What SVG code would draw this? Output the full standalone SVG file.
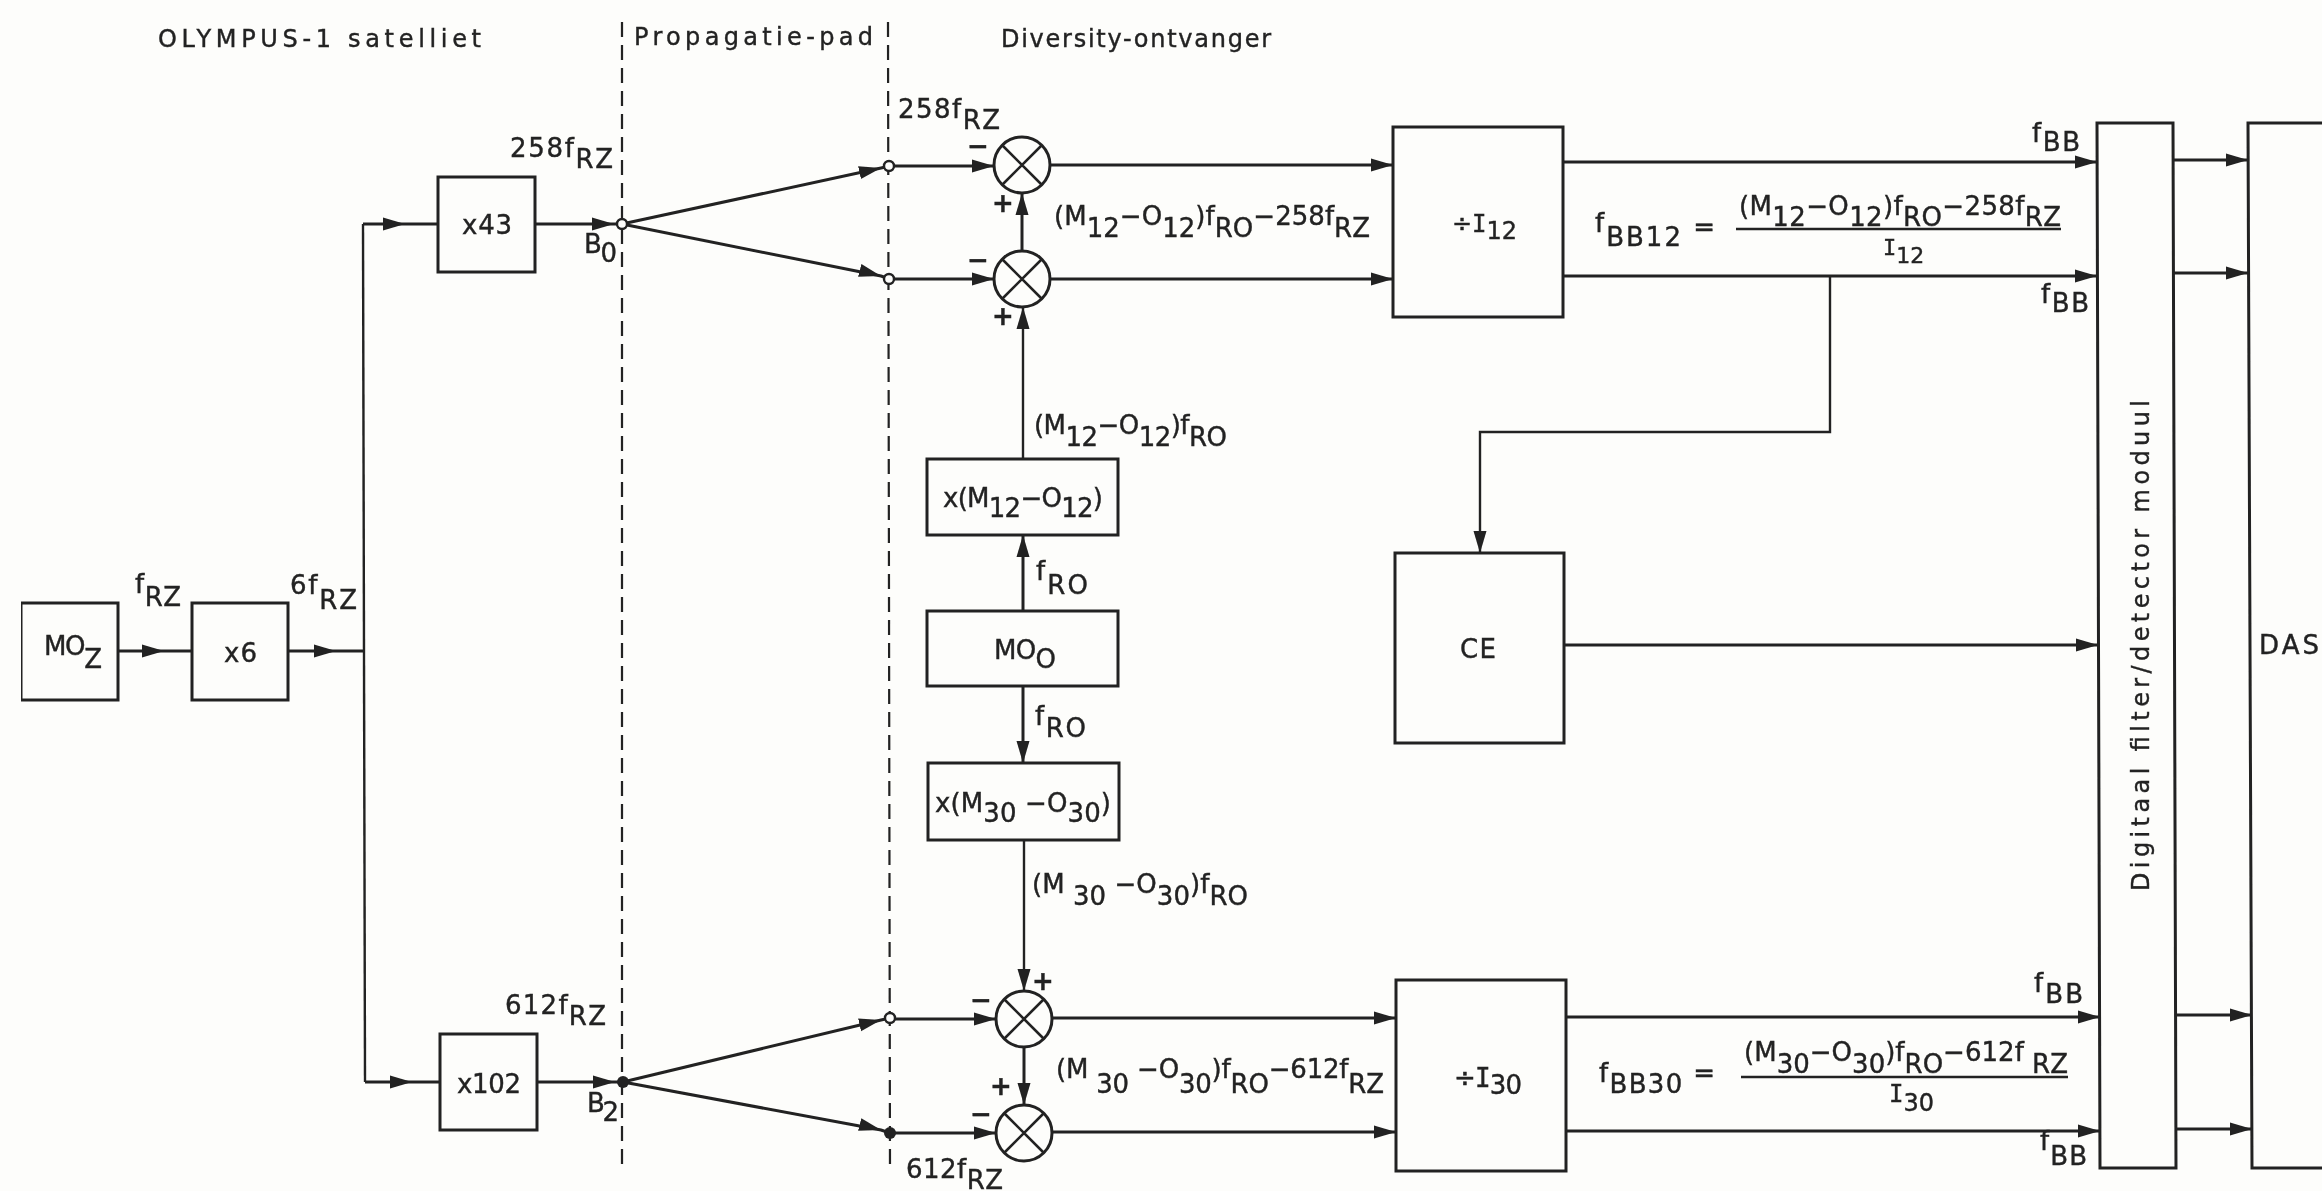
<svg xmlns="http://www.w3.org/2000/svg" width="2322" height="1191" viewBox="0 0 2322 1191">
<style>
text{font-family:"DejaVu Sans","Liberation Sans",sans-serif;font-size:26px;fill:#222;stroke:#222;stroke-width:.4}
.t{font-size:24px}
.k{font-size:24px}
.v{font-size:22px}
.i{font-family:"DejaVu Sans Mono","Liberation Mono",monospace}
.sg{font-size:26px;text-anchor:middle;font-weight:bold}
.b{fill:none;stroke:#222;stroke-width:3}
.l{fill:none;stroke:#222;stroke-width:3}
.th{fill:none;stroke:#222;stroke-width:2.4}
.a{marker-end:url(#ah)}
.m{marker-mid:url(#ah)}
.d{fill:none;stroke:#222;stroke-width:2.2;stroke-dasharray:15 8}
.x{fill:none;stroke:#222;stroke-width:2.6}
.mx{fill:#fdfdfb;stroke:#222;stroke-width:3}
.no{fill:#fdfdfb;stroke:#222;stroke-width:2.4}
.nf{fill:#222}
</style>
<defs>
<marker id="ah" markerUnits="userSpaceOnUse" markerWidth="24" markerHeight="16" refX="22" refY="8" orient="auto"><path d="M0 1.5L22 8L0 14.5Z" fill="#222"/></marker>
<g id="mixer"><ellipse class="mx" rx="28" ry="28"/><path class="x" d="M-20-20L20 20M20-20L-20 20"/></g>
<filter id="scan" x="0" y="0" width="100%" height="100%"><feGaussianBlur stdDeviation="0.6"/></filter>
</defs>
<rect width="2322" height="1191" fill="#fdfdfb"/>
<g filter="url(#scan)">
<g id="connectors">
<path class="d" d="M622 22V1170"/>
<path class="d" d="M888 22L890 1170"/>
<path class="l m" d="M118 651H164H192"/>
<path class="l m" d="M288 651H336H364"/>
<path class="th" d="M363 224L365 1082"/>
<path class="l m" d="M363 224H405H438"/>
<path class="l m" d="M365 1082H412H440"/>
<path class="l m" d="M535 224H614H622"/>
<path class="l m" d="M537 1082H615H623"/>
<path class="l m" d="M622 224L881 168L890 166"/>
<path class="l m" d="M622 224L881 276L890 279"/>
<path class="l m" d="M623 1082L881 1020L890 1018"/>
<path class="l m" d="M623 1082L881 1130L890 1133"/>
<path class="l a" d="M890 166H994"/>
<path class="l a" d="M890 279H994"/>
<path class="l a" d="M890 1019H996"/>
<path class="l a" d="M890 1133H996"/>
<path class="l a" d="M1022 251V193"/>
<path class="th a" d="M1023 459V307"/>
<path class="l a" d="M1023 611V535"/>
<path class="l a" d="M1023 686V763"/>
<path class="th a" d="M1024 840V991"/>
<path class="l a" d="M1024 1047V1105"/>
<path class="l a" d="M1050 165H1393"/>
<path class="l a" d="M1050 279H1393"/>
<path class="l a" d="M1052 1018H1396"/>
<path class="l a" d="M1052 1132H1396"/>
<path class="l a" d="M1563 162H2097"/>
<path class="l a" d="M1563 276H2097"/>
<path class="l a" d="M1566 1017H2100"/>
<path class="l a" d="M1566 1131H2100"/>
<path class="l a" d="M1564 645H2098"/>
<path class="th a" d="M1830 276V432H1480V553"/>
<path class="l a" d="M2173 160H2248"/>
<path class="l a" d="M2173 273H2248"/>
<path class="l a" d="M2176 1015H2252"/>
<path class="l a" d="M2176 1129H2252"/>
<path class="th" d="M1736 229H2061M1741 1077H2068"/>
<circle class="no" cx="622" cy="224" r="5"/>
<circle class="no" cx="889" cy="166" r="5"/>
<circle class="no" cx="889" cy="279" r="5"/>
<circle class="nf" cx="623" cy="1082" r="6"/>
<circle class="no" cx="890" cy="1018" r="5"/>
<circle class="nf" cx="890" cy="1133" r="6"/>
</g>

<g id="titles">
<text class="t" x="158" y="47" textLength="323">OLYMPUS-1 satelliet</text>
<text class="t" x="634" y="45" textLength="239">Propagatie-pad</text>
<text class="t" x="1001" y="47" textLength="270">Diversity-ontvanger</text>
</g>

<g id="moz"><rect class="b" x="21" y="603" width="97" height="97"/>
<text x="44" y="655" textLength="58">MO<tspan dy="13">Z</tspan></text>
<text x="135" y="593" textLength="46">f<tspan dy="13">RZ</tspan></text></g>
<g id="x6"><rect class="b" x="192" y="603" width="96" height="97"/>
<text x="224" y="662" textLength="33">x6</text>
<text x="290" y="594" textLength="67">6f<tspan dy="15">RZ</tspan></text></g>
<g id="x43"><rect class="b" x="438" y="177" width="97" height="95"/>
<text x="462" y="234" textLength="50">x43</text>
<text x="510" y="157" textLength="103">258f<tspan dy="11">RZ</tspan></text>
<text x="584" y="253" textLength="33">B<tspan dy="9">0</tspan></text></g>
<g id="x102"><rect class="b" x="440" y="1034" width="97" height="96"/>
<text x="457" y="1093" textLength="64">x102</text>
<text x="505" y="1014" textLength="101">612f<tspan dy="11">RZ</tspan></text>
<text x="587" y="1112" textLength="32">B<tspan dy="9">2</tspan></text></g>

<g id="mixer12a"><use href="#mixer" x="1022" y="165"/>
<text class="sg" x="978" y="155">−</text><text class="sg" x="1003" y="212">+</text>
<text x="898" y="118" textLength="102">258f<tspan dy="11">RZ</tspan></text></g>
<g id="mixer12b"><use href="#mixer" x="1022" y="279"/>
<text class="sg" x="978" y="269">−</text><text class="sg" x="1003" y="325">+</text></g>
<g id="mixer30a"><use href="#mixer" x="1024" y="1019"/>
<text class="sg" x="1043" y="990">+</text><text class="sg" x="981" y="1009">−</text></g>
<g id="mixer30b"><use href="#mixer" x="1024" y="1133"/>
<text class="sg" x="1001" y="1095">+</text><text class="sg" x="981" y="1123">−</text>
<text x="906" y="1178" textLength="97">612f<tspan dy="11">RZ</tspan></text></g>

<g id="mul12"><rect class="b" x="927" y="459" width="191" height="76"/>
<text x="943" y="507" textLength="160">x(M<tspan dy="10">12</tspan><tspan dy="-10">−O</tspan><tspan dy="10">12</tspan><tspan dy="-10">)</tspan></text>
<text x="1034" y="434" textLength="193">(M<tspan dy="12">12</tspan><tspan dy="-12">−O</tspan><tspan dy="12">12</tspan><tspan dy="-12">)f</tspan><tspan dy="12">RO</tspan></text></g>
<g id="moo"><rect class="b" x="927" y="611" width="191" height="75"/>
<text x="994" y="659" textLength="62">MO<tspan dy="9">O</tspan></text>
<text x="1036" y="580" textLength="52">f<tspan dy="14">RO</tspan></text>
<text x="1035" y="725" textLength="51">f<tspan dy="12">RO</tspan></text></g>
<g id="mul30"><rect class="b" x="928" y="763" width="191" height="77"/>
<text x="935" y="812" textLength="176">x(M<tspan dy="10">30</tspan><tspan dy="-10"> −O</tspan><tspan dy="10">30</tspan><tspan dy="-10">)</tspan></text>
<text x="1032" y="893" textLength="216">(M <tspan dy="12">30</tspan><tspan dy="-12"> −O</tspan><tspan dy="12">30</tspan><tspan dy="-12">)f</tspan><tspan dy="12">RO</tspan></text></g>

<g id="div12"><rect class="b" x="1393" y="127" width="170" height="190"/>
<text class="k" x="1452" y="232">÷<tspan class="i">I</tspan><tspan dy="7">12</tspan></text></g>
<g id="div30"><rect class="b" x="1396" y="980" width="170" height="191"/>
<text x="1454" y="1087" textLength="68">÷<tspan class="i">I</tspan><tspan dy="7">30</tspan></text></g>
<g id="ce"><rect class="b" x="1395" y="553" width="169" height="190"/>
<text x="1460" y="658" textLength="36">CE</text></g>

<g id="eq12">
<text x="1054" y="225" textLength="316">(M<tspan dy="12">12</tspan><tspan dy="-12">−O</tspan><tspan dy="12">12</tspan><tspan dy="-12">)f</tspan><tspan dy="12">RO</tspan><tspan dy="-12">−258f</tspan><tspan dy="12">RZ</tspan></text>
<text x="1595" y="232" textLength="120">f<tspan dy="14">BB12</tspan><tspan dy="-10"> =</tspan></text>
<text x="1739" y="215" textLength="322">(M<tspan dy="11">12</tspan><tspan dy="-11">−O</tspan><tspan dy="11">12</tspan><tspan dy="-11">)f</tspan><tspan dy="11">RO</tspan><tspan dy="-11">−258f</tspan><tspan dy="11">RZ</tspan></text>
<text class="v" x="1883" y="255"><tspan class="i">I</tspan><tspan dy="8">12</tspan></text>
</g>
<g id="eq30">
<text x="1056" y="1078" textLength="328">(M <tspan dy="15">30</tspan><tspan dy="-15"> −O</tspan><tspan dy="15">30</tspan><tspan dy="-15">)f</tspan><tspan dy="15">RO</tspan><tspan dy="-15">−612f</tspan><tspan dy="15">RZ</tspan></text>
<text x="1599" y="1082" textLength="116">f<tspan dy="11">BB30</tspan><tspan dy="-11"> =</tspan></text>
<text x="1744" y="1061" textLength="324">(M<tspan dy="12">30</tspan><tspan dy="-12">−O</tspan><tspan dy="12">30</tspan><tspan dy="-12">)f</tspan><tspan dy="12">RO</tspan><tspan dy="-12">−612f </tspan><tspan dy="12">RZ</tspan></text>
<text class="k" x="1889" y="1102"><tspan class="i">I</tspan><tspan dy="9">30</tspan></text>
</g>
<g id="fbb">
<text x="2032" y="142" textLength="48">f<tspan dy="9">BB</tspan></text>
<text x="2041" y="303" textLength="48">f<tspan dy="9">BB</tspan></text>
<text x="2034" y="992" textLength="49">f<tspan dy="11">BB</tspan></text>
<text x="2040" y="1150" textLength="47">f<tspan dy="15">BB</tspan></text>
</g>
<g id="module"><path class="b" d="M2097 123H2173L2176 1168H2100Z"/>
<text class="t" transform="translate(2149 891) rotate(-90)" textLength="491">Digitaal filter/detector moduul</text></g>
<g id="das"><path class="b" d="M2322 123H2248L2252 1168H2322"/>
<text x="2259" y="654" textLength="60">DAS</text></g>
</g>
</svg>
